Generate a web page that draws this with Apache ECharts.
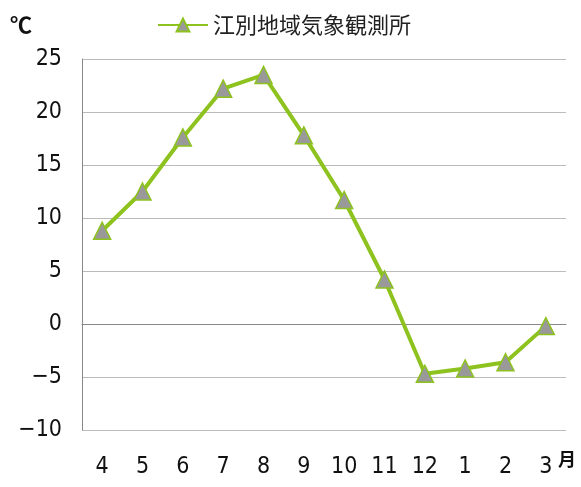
<!DOCTYPE html>
<html lang="ja">
<head>
    <meta charset="UTF-8">
    <title>江別地域気象観測所</title>
    <style>
        html, body { margin: 0; padding: 0; background: #fff; }
    </style>
</head>
<body>
    <div id="main" style="width: 581px;height:487px;"></div>
    <script src="https://cdn.jsdelivr.net/npm/echarts@6/dist/echarts.min.js"></script>
<script type="text/javascript">
    // 月別の平均気温
    var months = ['4', '5', '6', '7', '8', '9', '10', '11', '12', '1', '2', '3'];
    var temps = [8.8, 12.5, 17.6, 22.2, 23.5, 17.8, 11.7, 4.2, -4.7, -4.2, -3.6, -0.2];
    var seriesName = '江別地域気象観測所';
    var yTicks = [-10, -5, 0, 5, 10, 15, 20, 25];

    var labelFont = '"DejaVu Sans Condensed", "Liberation Sans Narrow", sans-serif';
    var lineColor = '#8dc21f';

    var myChart = echarts.init(document.getElementById('main'));

    myChart.setOption({
        animation: false,
        legend: {
            data: [seriesName],
            top: 9,
            left: 152,
            itemWidth: 50,
            itemHeight: 16,
            itemGap: 6,
            textStyle: {
                fontSize: 22,
                color: '#222',
                fontFamily: '"Noto Sans CJK JP", sans-serif'
            }
        },
        graphic: [
            {
                type: 'text', left: 10, top: 14,
                style: { text: '℃', fontSize: 22, fontWeight: 'bold', fill: '#111', fontFamily: '"Noto Sans CJK JP", sans-serif' }
            },
            {
                type: 'text', left: 558, top: 450,
                style: { text: '月', fontSize: 18, fontWeight: 'bold', fill: '#111', fontFamily: '"Noto Sans CJK JP", sans-serif' }
            }
        ],
        grid: {
            left: 82,
            right: 15,
            top: 59,
            bottom: 57,
            containLabel: false
        },
        xAxis: {
            type: 'category',
            data: months,
            boundaryGap: true,
            axisLine: { lineStyle: { color: '#888', width: 1 } },
            axisTick: { show: false },
            axisLabel: {
                margin: 26,
                fontSize: 23,
                color: '#111',
                fontFamily: labelFont
            }
        },
        yAxis: {
            type: 'value',
            min: yTicks[0],
            max: yTicks[yTicks.length - 1],
            interval: 5,
            axisLine: { show: true, lineStyle: { color: '#888', width: 1 } },
            axisTick: { show: false },
            splitLine: { lineStyle: { color: '#bbb', width: 1 } },
            axisLabel: {
                margin: 20,
                fontSize: 23,
                color: '#111',
                fontFamily: labelFont,
                formatter: function (v) { return v < 0 ? '−' + Math.abs(v) : String(v); }
            }
        },
        series: [{
            name: seriesName,
            type: 'line',
            data: temps,
            symbol: 'triangle',
            symbolSize: 17,
            lineStyle: { color: lineColor, width: 4 },
            itemStyle: { color: '#999', borderColor: lineColor, borderWidth: 1.5 }
        }]
    });
</script>
</body>
</html>
